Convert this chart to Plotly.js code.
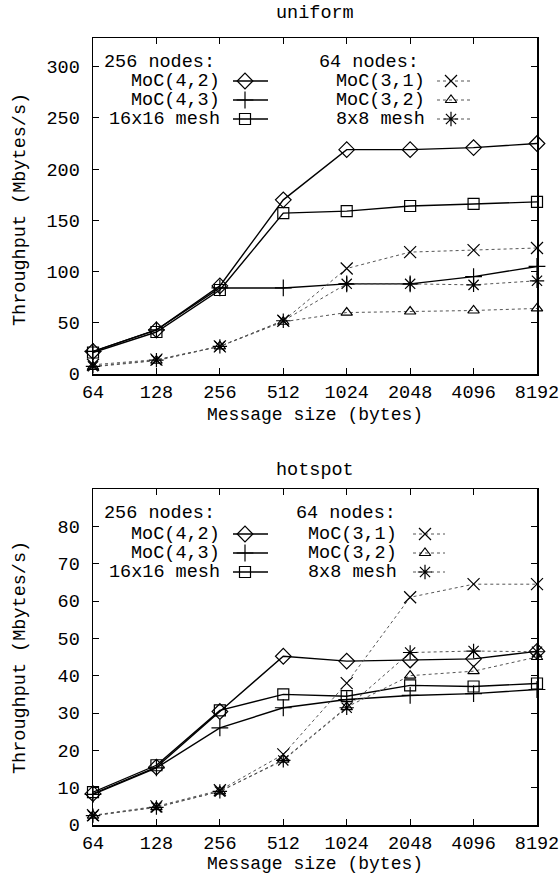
<!DOCTYPE html>
<html><head><meta charset="utf-8">
<script src="https://cdn.plot.ly/plotly-3.0.1.min.js"></script>
<style>html,body{margin:0;padding:0;background:#fff}#c{width:559px;height:873px}</style>
</head><body><div id="c"></div>
<script>
// ---- data ----
const sizeLabels = ["64", "128", "256", "512", "1024", "2048", "4096", "8192"];
// uniform traffic (Mbytes/s)
const u_moc42  = [22, 43, 86, 170, 219, 219, 221, 225];
const u_moc43  = [22, 43, 84, 84, 88, 88, 95, 105];
const u_mesh16 = [21, 41, 82, 157, 159, 164, 166, 168];
const u_moc31  = [9, 14, 27, 52, 103, 119, 121, 123];
const u_moc32  = [7, 13, 27, 51, 60, 61, 62, 64];
const u_mesh8  = [7.5, 13.5, 27, 52, 88, 88, 87, 91];
// hotspot traffic (Mbytes/s)
const h_moc42  = [8.4, 15.5, 30.4, 45.2, 43.9, 44.2, 44.5, 46.5];
const h_moc43  = [8.2, 15.3, 26, 31.4, 33.6, 34.7, 35.2, 36.3];
const h_mesh16 = [8.8, 16, 30.7, 35, 34.5, 37.4, 37.1, 37.9];
const h_moc31  = [2.6, 5, 9.3, 18.9, 38, 61, 64.5, 64.5];
const h_moc32  = [2.5, 4.8, 9, 17.5, 31.6, 40, 41.2, 45];
const h_mesh8  = [2.5, 4.7, 9, 17.3, 31.4, 46.2, 46.6, 46.4];
const seriesNames = ["MoC(4,2)", "MoC(4,3)", "16x16 mesh", "MoC(3,1)", "MoC(3,2)", "8x8 mesh"];
const uniformTicks = [0, 50, 100, 150, 200, 250, 300];
const hotspotTicks = [0, 10, 20, 30, 40, 50, 60, 70, 80];

// ---- styles ----
const FONT = "Liberation Mono, Courier New, monospace";
const FS = 18.5;
const styles = [
  {sym: "diamond-open", size: 12, solid: true},
  {sym: "cross-thin-open", size: 12, solid: true},
  {sym: "square-open", size: 11, solid: true},
  {sym: "x-thin-open", size: 12, solid: false},
  {sym: "triangle-up-open", size: 10, solid: false},
  {sym: "asterisk-open", size: 12, solid: false}
];
function lineStyle(s) {
  return s.solid ? {color: "#000", width: 1.4, dash: "solid"} : {color: "#555", width: 1, dash: "dot"};
}
function mk(y, i, xa, ya) {
  const s = styles[i];
  return {x: sizeLabels, y: y, xaxis: xa, yaxis: ya, type: "scatter", mode: "lines+markers",
    name: seriesNames[i], showlegend: false, cliponaxis: false,
    line: lineStyle(s),
    marker: {symbol: s.sym, size: s.size, color: "#000", line: {color: "#000", width: 1.2}}};
}
const traces = [];
[u_moc42, u_moc43, u_mesh16, u_moc31, u_moc32, u_mesh8].forEach((v, i) => traces.push(mk(v, i, "x", "y")));
[h_moc42, h_moc43, h_mesh16, h_moc31, h_moc32, h_mesh8].forEach((v, i) => traces.push(mk(v, i, "x2", "y2")));

// ---- legend keys (pixel layout on a hidden full-page axis) ----
const keyRowsTop = [81, 100, 119];
const keyRowsBot = [534, 553, 572];
function keyTrace(i, x1, xm, x2, yy) {
  const s = styles[i];
  return {x: [x1, xm, x2], y: [yy, yy, yy], xaxis: "x3", yaxis: "y3", type: "scatter",
    mode: "lines+markers", showlegend: false, hoverinfo: "skip", cliponaxis: false,
    line: lineStyle(s),
    marker: {symbol: s.sym, size: s.size, color: "#000", opacity: [0, 1, 0], line: {color: "#000", width: 1.2}}};
}
for (let r = 0; r < 3; r++) {
  traces.push(keyTrace(r, 233, 245, 268, keyRowsTop[r]));
  traces.push(keyTrace(r + 3, 437, 451, 473, keyRowsTop[r]));
  traces.push(keyTrace(r, 233, 245, 268, keyRowsBot[r]));
  traces.push(keyTrace(r + 3, 413, 425, 445, keyRowsBot[r]));
}

const annotations = [];
function txt(t, x, y, anchor, fs) {
  annotations.push({text: t, x: x, y: y, xref: "x3", yref: "y3", xanchor: anchor, yanchor: "middle",
    showarrow: false, font: {family: FONT, size: fs || FS, color: "#000"}});
}
txt("256 nodes:", 102, 62, "left");
txt("64 nodes:", 317, 62, "left");
txt("256 nodes:", 102, 513, "left");
txt("64 nodes:", 294, 513, "left");
for (let r = 0; r < 3; r++) {
  txt(seriesNames[r], 222, keyRowsTop[r], "right");
  txt(seriesNames[r + 3], 427, keyRowsTop[r], "right");
  txt(seriesNames[r], 222, keyRowsBot[r], "right");
  txt(seriesNames[r + 3], 399, keyRowsBot[r], "right");
}
txt("uniform", 315, 13, "center");
txt("hotspot", 315, 470, "center");
txt("Message size (bytes)", 315, 415, "center", 18);
txt("Message size (bytes)", 315, 864, "center", 18);
annotations.push({text: "Throughput (Mbytes/s)", x: 20, y: 210, xref: "x3", yref: "y3", textangle: -90,
  showarrow: false, font: {family: FONT, size: FS, color: "#000"}});
annotations.push({text: "Throughput (Mbytes/s)", x: 20, y: 658, xref: "x3", yref: "y3", textangle: -90,
  showarrow: false, font: {family: FONT, size: FS, color: "#000"}});

const xdom = [93 / 559, 537 / 559];
function xax(anchor) {
  return {type: "category", domain: xdom, anchor: anchor, range: [0, 7],
    ticks: "inside", ticklen: 6, tickwidth: 1, tickcolor: "#000",
    showline: true, linecolor: "#000", linewidth: 1.5, mirror: "ticks", showgrid: false, zeroline: false,
    tickfont: {family: FONT, size: FS, color: "#000"}, ticklabelstandoff: 0};
}
function yax(anchor, dom, rng, tv) {
  return {domain: dom, anchor: anchor, range: rng, tickmode: "array", tickvals: tv, ticks: "inside", ticklen: 6,
    tickwidth: 1, tickcolor: "#000", showline: true, linecolor: "#000", linewidth: 1.5, mirror: "ticks",
    showgrid: false, zeroline: false, tickfont: {family: FONT, size: FS, color: "#000"}, ticklabelstandoff: 8};
}
const layout = {
  width: 559, height: 873, margin: {l: 0, r: 0, t: 0, b: 0},
  paper_bgcolor: "#fff", plot_bgcolor: "rgba(0,0,0,0)", showlegend: false,
  xaxis: xax("y"),
  yaxis: yax("x", [1 - 374 / 873, 1 - 38 / 873], [0, 328], uniformTicks),
  xaxis2: xax("y2"),
  yaxis2: yax("x2", [1 - 825 / 873, 1 - 489 / 873], [0, 90], hotspotTicks),
  xaxis3: {domain: [0, 1], range: [0, 559], visible: false, anchor: "y3", fixedrange: true},
  yaxis3: {domain: [0, 1], range: [873, 0], visible: false, anchor: "x3", fixedrange: true},
  annotations: annotations
};
Plotly.newPlot("c", traces, layout, {staticPlot: true});
</script></body></html>
